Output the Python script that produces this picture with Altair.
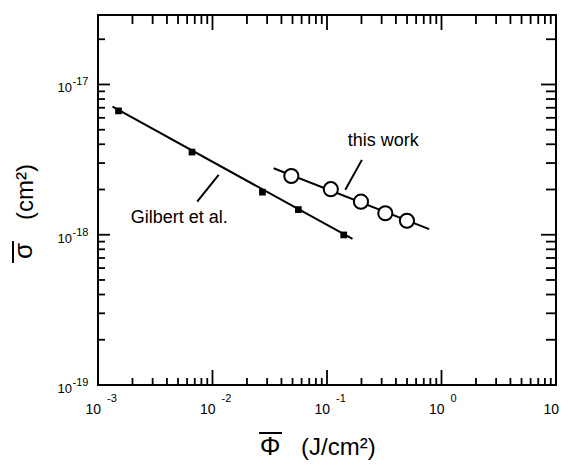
import altair as alt
import pandas as pd

FONT = "Liberation Sans"
W, H = 458, 370

# ---- data ----
gilbert_x = [1.51e-3, 6.62e-3, 2.73e-2, 5.62e-2, 0.140]
gilbert_y = [6.67e-18, 3.55e-18, 1.92e-18, 1.47e-18, 0.997e-18]
gilbert_fit_x = [1.34e-3, 0.167]
gilbert_fit_y = [7.12e-18, 0.937e-18]

work_x = [0.0488, 0.108, 0.198, 0.323, 0.499]
work_y = [2.46e-18, 2.01e-18, 1.66e-18, 1.39e-18, 1.24e-18]
work_fit_x = [0.0342, 0.781]
work_fit_y = [2.77e-18, 1.09e-18]

labels = ["this work", "Gilbert et al."]
label_x = [0.31, 5.12e-3]
label_y = [3.90e-18, 1.19e-18]
leader_x = [0.2018, 0.01132]
leader_x2 = [0.1445, 7.35e-3]
leader_y = [3.15e-18, 2.50e-18]
leader_y2 = [1.99e-18, 1.66e-18]

x_decades = [1e-3, 1e-2, 1e-1, 1e0, 1e1]
x_exps = ["-3", "-2", "-1", "0", "1"]
y_decades = [1e-19, 1e-18, 1e-17]
y_exps = ["-19", "-18", "-17"]
mantissas = [2, 3, 4, 5, 6, 7, 8, 9]
x_minor = [m * d for d in x_decades[:-1] for m in mantissas]
y_minor = [m * d for d in y_decades[:-1] for m in mantissas] + [2e-17]

xs = alt.Scale(type="log", domain=[1e-3, 10], nice=False)
ys = alt.Scale(type="log", domain=[1e-19, 2.9e-17], nice=False)


def X(f):
    return alt.X(f, type="quantitative", scale=xs, axis=None)


def Y(f):
    return alt.Y(f, type="quantitative", scale=ys, axis=None)


g_df = pd.DataFrame({"x": gilbert_x, "y": gilbert_y})
gf_df = pd.DataFrame({"x": gilbert_fit_x, "y": gilbert_fit_y})
w_df = pd.DataFrame({"x": work_x, "y": work_y})
wf_df = pd.DataFrame({"x": work_fit_x, "y": work_fit_y})
lab_df = pd.DataFrame({"x": label_x, "y": label_y, "t": labels})
lead_df = pd.DataFrame({"x": leader_x, "x2": leader_x2, "y": leader_y, "y2": leader_y2})
xmaj = pd.DataFrame({"v": x_decades, "e": x_exps, "b": ["10"] * len(x_decades)})
ymaj = pd.DataFrame({"v": y_decades, "e": y_exps, "b": ["10"] * len(y_decades)})
xmin = pd.DataFrame({"v": x_minor})
ymin = pd.DataFrame({"v": y_minor})
one = pd.DataFrame({"a": [0]})

layers = []


def xticks(df, top_len, bot_len):
    return [
        alt.Chart(df).mark_rule(color="black", strokeWidth=1.8).encode(
            x=X("v"), y=alt.value(0), y2=alt.value(top_len)),
        alt.Chart(df).mark_rule(color="black", strokeWidth=1.8).encode(
            x=X("v"), y=alt.value(H), y2=alt.value(H - bot_len)),
    ]


def yticks(df, left_len, right_len):
    return [
        alt.Chart(df).mark_rule(color="black", strokeWidth=1.8).encode(
            y=Y("v"), x=alt.value(0), x2=alt.value(left_len)),
        alt.Chart(df).mark_rule(color="black", strokeWidth=1.8).encode(
            y=Y("v"), x=alt.value(W), x2=alt.value(W - right_len)),
    ]


layers += xticks(xmaj, 15, 15)
layers += xticks(xmin, 9, 7)
layers += yticks(ymaj, 12, 15)
layers += yticks(ymin, 7, 10)

# tick labels
layers.append(alt.Chart(xmaj).mark_text(
    align="right", baseline="alphabetic", dx=3, fontSize=14, font=FONT, color="black"
).encode(x=X("v"), y=alt.value(H + 29), text="b:N"))
layers.append(alt.Chart(xmaj).mark_text(
    align="left", baseline="alphabetic", dx=9, fontSize=11, font=FONT, color="black"
).encode(x=X("v"), y=alt.value(H + 17), text="e:N"))
layers.append(alt.Chart(ymaj).mark_text(
    align="right", baseline="alphabetic", dy=8, fontSize=13, font=FONT, color="black"
).encode(y=Y("v"), x=alt.value(-26), text="b:N"))
layers.append(alt.Chart(ymaj).mark_text(
    align="left", baseline="alphabetic", dy=1, fontSize=11, font=FONT, color="black"
).encode(y=Y("v"), x=alt.value(-25.5), text="e:N"))

# fitted lines
layers.append(alt.Chart(gf_df).mark_line(color="black", strokeWidth=2).encode(x=X("x"), y=Y("y")))
layers.append(alt.Chart(wf_df).mark_line(color="black", strokeWidth=2).encode(x=X("x"), y=Y("y")))

# data points
layers.append(alt.Chart(g_df).mark_square(size=45, color="black", opacity=1).encode(x=X("x"), y=Y("y")))
layers.append(alt.Chart(w_df).mark_point(
    shape="circle", size=200, filled=True, fill="white", stroke="black", strokeWidth=2, opacity=1
).encode(x=X("x"), y=Y("y")))

# annotations
layers.append(alt.Chart(lead_df).mark_rule(color="black", strokeWidth=2).encode(
    x=X("x"), x2="x2", y=Y("y"), y2="y2"))
layers.append(alt.Chart(lab_df).mark_text(
    align="center", baseline="alphabetic", fontSize=18, font=FONT, color="black"
).encode(x=X("x"), y=Y("y"), text="t:N"))

# axis titles
TB = H + 70
layers.append(alt.Chart(one).mark_text(
    align="center", baseline="alphabetic", fontSize=26, font=FONT, color="black"
).encode(x=alt.value(172), y=alt.value(TB), text=alt.value("Φ")))
layers.append(alt.Chart(one).mark_rule(color="black", strokeWidth=2).encode(
    x=alt.value(161), x2=alt.value(184), y=alt.value(TB - 22)))
layers.append(alt.Chart(one).mark_text(
    align="left", baseline="alphabetic", fontSize=24, font=FONT, color="black"
).encode(x=alt.value(203), y=alt.value(TB), text=alt.value("(J/cm²)")))

layers.append(alt.Chart(one).mark_text(
    align="center", baseline="middle", angle=270, fontSize=26, font=FONT, color="black"
).encode(x=alt.value(-74), y=alt.value(236), text=alt.value("σ")))
layers.append(alt.Chart(one).mark_rule(color="black", strokeWidth=2).encode(
    x=alt.value(-85), y=alt.value(226), y2=alt.value(248)))
layers.append(alt.Chart(one).mark_text(
    align="center", baseline="middle", angle=270, fontSize=24, font=FONT, color="black"
).encode(x=alt.value(-72), y=alt.value(177), text=alt.value("(cm²)")))

chart = alt.layer(*layers).properties(
    width=W, height=H,
    autosize=alt.AutoSizeParams(type="none"),
    padding={"left": 90, "top": 7, "right": 4, "bottom": 77},
    background="white",
).configure_view(stroke="black", strokeWidth=2)

chart.save("out.html", embed_options={"renderer": "svg", "actions": False})
